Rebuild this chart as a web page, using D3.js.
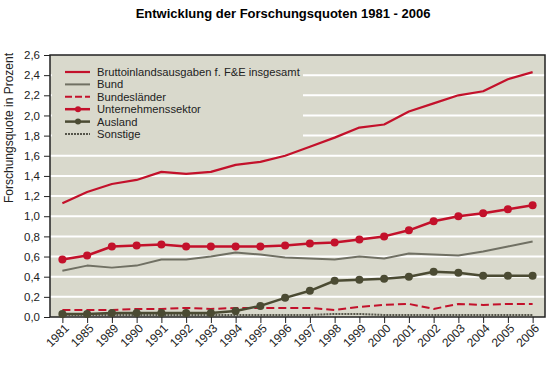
<!DOCTYPE html>
<html>
<head>
<meta charset="utf-8">
<script src="https://cdn.jsdelivr.net/npm/d3@7"></script>
<style>
  body { margin: 0; background: #fff; }
  svg { display: block; font-family: "Liberation Sans", Arial, sans-serif; }
</style>
</head>
<body>
<svg id="chart" width="550" height="375"></svg>
<script>
const years = ['1981', '1985', '1989', '1990', '1991', '1992', '1993', '1994', '1995', '1996',
  '1997', '1998', '1999', '2000', '2001', '2002', '2003', '2004', '2005', '2006'];

const gesamt = [1.13, 1.24, 1.32, 1.36, 1.44, 1.42, 1.44, 1.51, 1.54, 1.60,
  1.69, 1.78, 1.88, 1.91, 2.04, 2.12, 2.20, 2.24, 2.36, 2.43];
const bund = [0.46, 0.51, 0.49, 0.51, 0.57, 0.57, 0.60, 0.64, 0.62, 0.59,
  0.58, 0.57, 0.60, 0.58, 0.63, 0.62, 0.61, 0.65, 0.70, 0.75];
const laender = [0.07, 0.07, 0.07, 0.08, 0.08, 0.09, 0.08, 0.09, 0.09, 0.09,
  0.09, 0.07, 0.10, 0.12, 0.13, 0.08, 0.13, 0.12, 0.13, 0.13];
const unternehmen = [0.57, 0.61, 0.70, 0.71, 0.72, 0.70, 0.70, 0.70, 0.70, 0.71,
  0.73, 0.74, 0.77, 0.80, 0.86, 0.95, 1.00, 1.03, 1.07, 1.11];
const ausland = [0.03, 0.03, 0.04, 0.04, 0.04, 0.04, 0.04, 0.06, 0.11, 0.19,
  0.26, 0.36, 0.37, 0.38, 0.40, 0.45, 0.44, 0.41, 0.41, 0.41];
const sonstige = [0.02, 0.02, 0.02, 0.02, 0.02, 0.02, 0.02, 0.02, 0.02, 0.02,
  0.02, 0.03, 0.03, 0.02, 0.02, 0.02, 0.02, 0.02, 0.02, 0.02];

const yTicks = [0, 0.2, 0.4, 0.6, 0.8, 1.0, 1.2, 1.4, 1.6, 1.8, 2.0, 2.2, 2.4, 2.6];

const red = '#c3112b';

// drawing order: back to front
const series = [
  { name: 'Sonstige', values: sonstige, color: '#55554a', width: 2, dash: '2,1', dot: false },
  { name: 'Bundesländer', values: laender, color: red, width: 2, dash: '8,4', dot: false },
  { name: 'Ausland', values: ausland, color: '#4b4b33', width: 2.5, dash: null, dot: true },
  { name: 'Bund', values: bund, color: '#707063', width: 2, dash: null, dot: false },
  { name: 'Unternehmenssektor', values: unternehmen, color: red, width: 2.5, dash: null, dot: true },
  { name: 'Bruttoinlandsausgaben f. F&E insgesamt', values: gesamt, color: red, width: 2.2, dash: null, dot: false }
];
const legendOrder = ['Bruttoinlandsausgaben f. F&E insgesamt', 'Bund', 'Bundesländer',
  'Unternehmenssektor', 'Ausland', 'Sonstige'];

const margin = { top: 55, right: 5, bottom: 58, left: 50 };
const width = 550 - margin.left - margin.right;
const height = 375 - margin.top - margin.bottom;

const svg = d3.select('#chart');

svg.append('text')
  .attr('x', 283)
  .attr('y', 18)
  .attr('text-anchor', 'middle')
  .attr('font-size', 13)
  .attr('font-weight', 'bold')
  .text('Entwicklung der Forschungsquoten 1981 - 2006');

svg.append('text')
  .attr('transform', 'translate(13,' + (margin.top + 73) + ') rotate(-90)')
  .attr('text-anchor', 'middle')
  .attr('font-size', 12)
  .attr('fill', '#222')
  .text('Forschungsquote in Prozent');

const g = svg.append('g').attr('transform', `translate(${margin.left},${margin.top})`);

const x = d3.scalePoint().domain(years).range([0, width]).padding(0.5);
const y = d3.scaleLinear().domain([0, 2.6]).range([height, 0]);

// plot background
g.append('rect')
  .attr('width', width)
  .attr('height', height)
  .attr('fill', '#d9d9cc');

// gridlines
g.append('g')
  .selectAll('line')
  .data(yTicks.slice(1, -1))
  .join('line')
  .attr('x1', 0)
  .attr('x2', width)
  .attr('y1', d => y(d))
  .attr('y2', d => y(d))
  .attr('stroke', '#fff')
  .attr('stroke-width', 2);

// legend box covers the upper gridlines
const legend = g.append('g').attr('transform', 'translate(0,6)');
legend.append('rect')
  .attr('x', 2)
  .attr('width', 251)
  .attr('height', 84)
  .attr('fill', '#d9d9cc');

// axes
const yAxis = g.append('g')
  .call(d3.axisLeft(y).tickValues(yTicks).tickSize(6).tickPadding(4)
    .tickFormat(d => d3.format('.1f')(d).replace('.', ',')));
yAxis.select('.domain').remove();
yAxis.selectAll('text').attr('font-size', 11.5).attr('fill', '#222');
yAxis.selectAll('line').attr('stroke', '#222');

const xAxis = g.append('g')
  .attr('transform', `translate(0,${height})`)
  .call(d3.axisBottom(x).tickSize(6));
xAxis.select('.domain').remove();
xAxis.selectAll('line').attr('stroke', '#222');
xAxis.selectAll('text')
  .attr('font-size', 12)
  .attr('fill', '#222')
  .attr('text-anchor', 'end')
  .attr('x', 0)
  .attr('y', 0)
  .attr('dy', '0.35em')
  .attr('transform', 'translate(4,9) rotate(-45)');

// frame
g.append('rect')
  .attr('width', width)
  .attr('height', height)
  .attr('fill', 'none')
  .attr('stroke', '#222')
  .attr('stroke-width', 1.5);

const line = d3.line()
  .x((d, i) => x(years[i]))
  .y(d => y(d));

series.forEach(s => {
  g.append('path')
    .datum(s.values)
    .attr('fill', 'none')
    .attr('stroke', s.color)
    .attr('stroke-width', s.width)
    .attr('stroke-dasharray', s.dash)
    .attr('stroke-linejoin', 'round')
    .attr('d', line);
  if (s.dot) {
    g.append('g')
      .selectAll('circle')
      .data(s.values)
      .join('circle')
      .attr('cx', (d, i) => x(years[i]))
      .attr('cy', d => y(d))
      .attr('r', 4)
      .attr('fill', s.color);
  }
});

// legend entries
const byName = new Map(series.map(s => [s.name, s]));
legendOrder.forEach((name, i) => {
  const s = byName.get(name);
  const row = legend.append('g').attr('transform', `translate(0,${11 + i * 12.4})`);
  row.append('line')
    .attr('x1', 15)
    .attr('x2', 40)
    .attr('stroke', s.color)
    .attr('stroke-width', s.width)
    .attr('stroke-dasharray', s.dash ? (s.dash === '8,4' ? '7,3' : s.dash) : null);
  if (s.dot) {
    row.append('circle').attr('cx', 28).attr('r', 3).attr('fill', s.color);
  }
  row.append('text')
    .attr('x', 47)
    .attr('dy', '0.35em')
    .attr('font-size', 11.2)
    .attr('fill', '#222')
    .text(name);
});
</script>
</body>
</html>
